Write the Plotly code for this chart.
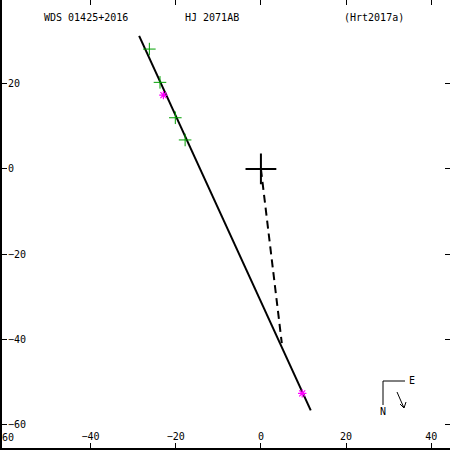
import plotly.graph_objects as go

# Orbit (nearly edge-on, appears as a line)
orbit_x = [-28.6, 11.7]
orbit_y = [31.2, -56.6]

# Line from primary to periastron
peri_x = [0.0, 4.9]
peri_y = [0.0, -40.8]

# Observations (green +)
obs_x = [-26.2, -23.7, -20.1, -17.8]
obs_y = [28.1, 20.3, 12.0, 6.8]

# Interferometric / special measures (magenta *)
spec_x = [-22.9, 9.7]
spec_y = [17.3, -52.6]

# Primary
prim_x = [0.0]
prim_y = [0.0]

tick_vals = [-60, -40, -20, 0, 20, 40]
tick_text = ["\u221260", "\u221240", "\u221220", "0", "20", "40"]

W = H = 450
ML, MB = 2, 2

fig = go.Figure()
fig.add_trace(go.Scatter(x=orbit_x, y=orbit_y, mode="lines",
                         line=dict(color="black", width=2), showlegend=False))
fig.add_trace(go.Scatter(x=peri_x, y=peri_y, mode="lines",
                         line=dict(color="black", width=2, dash="8px,5px"), showlegend=False))
fig.add_trace(go.Scatter(x=obs_x, y=obs_y, mode="markers",
                         marker=dict(symbol="cross-thin", size=9, line=dict(color="#00a000", width=1)),
                         showlegend=False))
fig.add_trace(go.Scatter(x=spec_x, y=spec_y, mode="markers",
                         marker=dict(symbol="asterisk", size=7, line=dict(color="#ff00ff", width=1.2)),
                         showlegend=False))
fig.add_trace(go.Scatter(x=prim_x, y=prim_y, mode="markers",
                         marker=dict(symbol="cross-thin", size=22, line=dict(color="black", width=2)),
                         showlegend=False))


def px(xp):
    return (xp - ML) / (W - ML)


def py(yp):
    return 1 - yp / (H - MB)


mono = "DejaVu Sans Mono"
annos = [
    dict(text="WDS 01425+2016", x=px(86), y=py(17)),
    dict(text="HJ 2071AB", x=px(212), y=py(17)),
    dict(text="(Hrt2017a)", x=px(374), y=py(17)),
    dict(text="E", x=px(412), y=py(380)),
    dict(text="N", x=px(383), y=py(411)),
    dict(text=tick_text[0], x=px(5), y=py(437)),
]
annotations = [dict(xref="paper", yref="paper", showarrow=False, xanchor="center", yanchor="middle",
                    font=dict(family=mono, size=10, color="black"), **a) for a in annos]

shapes = [
    dict(type="line", xref="paper", yref="paper", x0=px(383), y0=py(381), x1=px(405), y1=py(381),
         line=dict(color="black", width=1)),
    dict(type="line", xref="paper", yref="paper", x0=px(383), y0=py(381), x1=px(383), y1=py(405),
         line=dict(color="black", width=1)),
    dict(type="line", xref="paper", yref="paper", x0=px(397), y0=py(392), x1=px(404), y1=py(408),
         line=dict(color="black", width=1)),
    dict(type="line", xref="paper", yref="paper", x0=px(404), y0=py(408), x1=px(400), y1=py(404),
         line=dict(color="black", width=1)),
    dict(type="line", xref="paper", yref="paper", x0=px(404), y0=py(408), x1=px(406), y1=py(402),
         line=dict(color="black", width=1)),
]

axis_common = dict(
    tickvals=tick_vals, ticktext=tick_text, ticks="inside", ticklen=5, tickwidth=1,
    tickcolor="black", showline=True, linecolor="black", linewidth=2, mirror="ticks",
    showgrid=False, zeroline=False, ticklabelposition="inside", automargin=False,
    tickfont=dict(family=mono, size=10, color="black"),
)

fig.update_layout(
    width=W, height=H, margin=dict(l=ML, r=0, t=0, b=MB, pad=0, autoexpand=False),
    paper_bgcolor="white", plot_bgcolor="white",
    xaxis=dict(range=[-60.8, 44.4], **axis_common),
    yaxis=dict(range=[-65.4, 39.6], **axis_common),
    annotations=annotations, shapes=shapes,
)

fig.write_html("out.html", config={"displayModeBar": False},
               post_script="document.body.style.margin='0';document.body.style.overflow='hidden';")
